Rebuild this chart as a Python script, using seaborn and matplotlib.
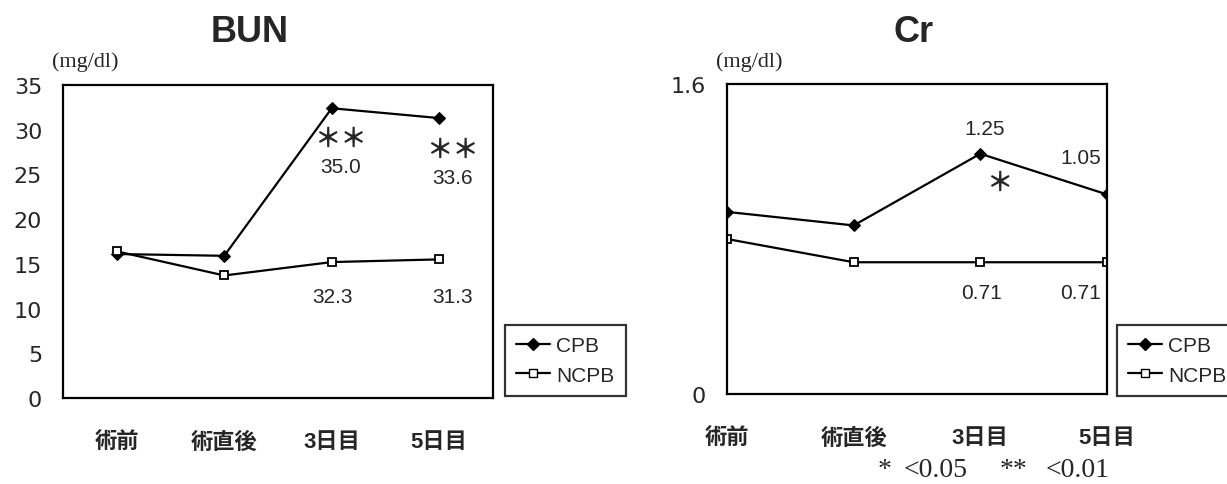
import matplotlib
matplotlib.use('Agg')
import matplotlib.pyplot as plt
import seaborn as sns
import pandas as pd
from matplotlib.lines import Line2D

sns.set_style('white')
plt.rcParams['font.family'] = ['Liberation Sans', 'Noto Sans CJK JP']

# data
periods = ['術前', '術直後', '3日目', '5日目']
bun_cpb = [16.1, 15.9, 32.4, 31.3]
bun_ncpb = [16.4, 13.7, 15.2, 15.5]
cr_cpb = [0.94, 0.87, 1.24, 1.03]
cr_ncpb = [0.80, 0.68, 0.68, 0.68]

bun_labels_cpb = ['35.0', '33.6']
bun_labels_ncpb = ['32.3', '31.3']
cr_labels_cpb = ['1.25', '1.05']
cr_labels_ncpb = ['0.71', '0.71']

bun = pd.DataFrame({'pos': range(4), 'CPB': bun_cpb, 'NCPB': bun_ncpb})
cr = pd.DataFrame({'pos': range(4), 'CPB': cr_cpb, 'NCPB': cr_ncpb})

W, H = 1227, 485
fig = plt.figure(figsize=(W / 100, H / 100), dpi=100)


def px(x0, y0, x1, y1):
    return [x0 / W, 1 - y1 / H, (x1 - x0) / W, (y1 - y0) / H]


def draw(ax, df):
    sns.lineplot(data=df, x='pos', y='CPB', ax=ax, color='black', lw=1.6,
                 marker='D', markersize=6, markerfacecolor='black',
                 markeredgecolor='black')
    sns.lineplot(data=df, x='pos', y='NCPB', ax=ax, color='black', lw=1.6,
                 marker='s', markersize=5.5, markerfacecolor='white',
                 markeredgecolor='black', markeredgewidth=1.3)
    for s in ax.spines.values():
        s.set_visible(True)
        s.set_color('black')
        s.set_linewidth(1.6)
    ax.set_xlabel('')
    ax.set_ylabel('')
    ax.set_xticks(range(4))
    ax.set_xticklabels(periods, fontsize=16, fontweight='bold')
    ax.tick_params(axis='x', length=0, pad=24)
    ax.tick_params(axis='y', length=0)
    for t in ax.get_yticklabels():
        t.set_fontsize(16)
        t.set_family('DejaVu Sans')
    ax.tick_params(axis='x', which='minor', direction='in', length=7,
                   width=1.6, color='black')


# BUN
ax1 = fig.add_axes(px(63, 86, 493, 399))
ax1.set_yticks(range(0, 36, 5))
draw(ax1, bun)
ax1.set_xlim(-0.5, 3.5)
ax1.set_ylim(0, 35)
ax1.set_xticks([0.5, 1.5, 2.5], minor=True)
ax1.tick_params(axis='y', pad=15)

star = dict(ha='center', va='center', fontsize=19, fontweight='bold',
            family=['Noto Sans CJK JP', 'DejaVu Sans'])
lab = dict(ha='center', va='center', fontsize=15)
ax1.text(2.08, 29.0, '＊＊', **star)
ax1.text(3.12, 27.8, '＊＊', **star)
ax1.text(2.08, 25.9, bun_labels_cpb[0], **lab)
ax1.text(3.12, 24.7, bun_labels_cpb[1], **lab)
ax1.text(2.01, 11.4, bun_labels_ncpb[0], **lab)
ax1.text(3.12, 11.4, bun_labels_ncpb[1], **lab)

# Cr
ax2 = fig.add_axes(px(727, 85, 1107, 395))
ax2.set_yticks([0, 1.6])
ax2.set_yticklabels(['0', '1.6'])
draw(ax2, cr)
ax2.set_xlim(0, 3)
ax2.set_ylim(0, 1.6)
ax2.set_xticks([1, 2], minor=True)
ax2.tick_params(axis='y', pad=15)

ax2.text(2.03, 1.368, cr_labels_cpb[0], **lab)
ax2.text(2.79, 1.223, cr_labels_cpb[1], **lab)
ax2.text(2.15, 1.09, '＊', **star)
ax2.text(2.01, 0.526, cr_labels_ncpb[0], **lab)
ax2.text(2.79, 0.526, cr_labels_ncpb[1], **lab)

# titles and units
fig.text(250 / W, 1 - 33 / H, 'BUN', ha='center', va='center', fontsize=26, fontweight='bold')
fig.text(914 / W, 1 - 33 / H, 'Cr', ha='center', va='center', fontsize=26, fontweight='bold')
serif = dict(ha='left', va='center', family='Liberation Serif')
fig.text(52 / W, 1 - 62 / H, '(mg/dl)', fontsize=16, **serif)
fig.text(716 / W, 1 - 62 / H, '(mg/dl)', fontsize=16, **serif)
fig.text(878 / W, 1 - 471 / H, '*', fontsize=20, **serif)
fig.text(904 / W, 1 - 471 / H, '<0.05', fontsize=20, **serif)
fig.text(1000 / W, 1 - 471 / H, '**', fontsize=20, **serif)
fig.text(1046 / W, 1 - 471 / H, '<0.01', fontsize=20, **serif)

# legends
handles = [Line2D([], [], color='black', lw=1.6, marker='D', markersize=6, markerfacecolor='black'),
           Line2D([], [], color='black', lw=1.6, marker='s', markersize=5.5, markerfacecolor='white')]
for x0 in [505, 1117]:
    leg = fig.legend(handles, ['CPB', 'NCPB'], loc='lower left',
                     bbox_to_anchor=(x0 / W, 1 - 397 / H), fontsize=15,
                     frameon=True, fancybox=False, edgecolor='black',
                     handlelength=1.6, handletextpad=0.3, borderpad=0.55,
                     labelspacing=0.5, borderaxespad=0)
    leg.get_frame().set_linewidth(1.6)

fig.savefig('out.png', dpi=100)
